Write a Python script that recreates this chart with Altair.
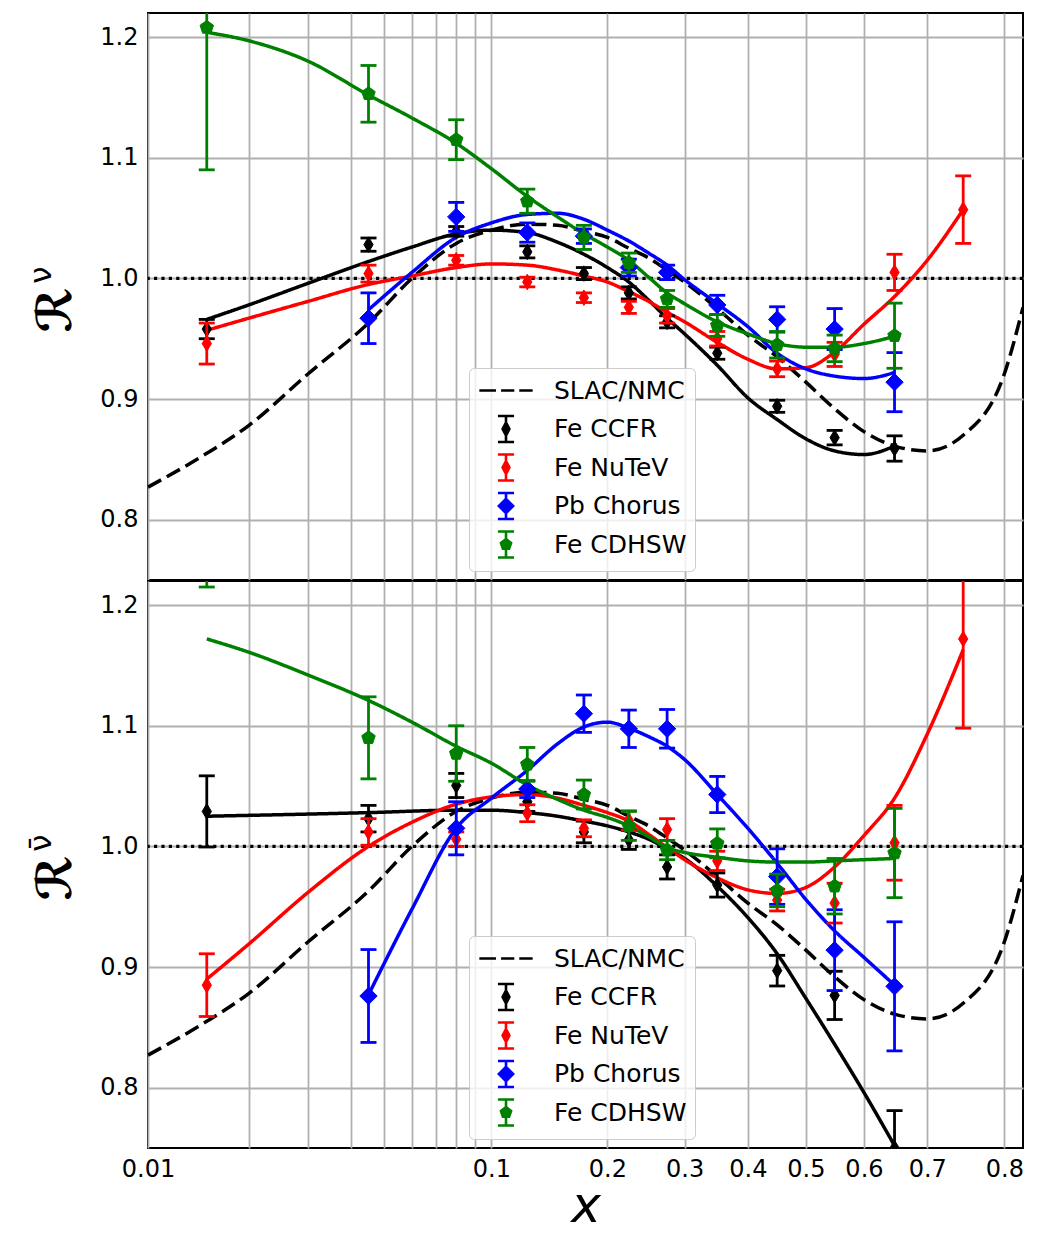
import math
import altair as alt
import pandas as pd

# ---------------------------------------------------------------- series
SERIES = ["SLAC/NMC", "Fe CCFR", "Fe NuTeV", "Pb Chorus", "Fe CDHSW"]
SERIES_COLORS = ["#000000", "#000000", "#ff0000", "#0000ff", "#008000"]

X_TICKS = [0.01, 0.02, 0.03, 0.04, 0.05, 0.06, 0.07, 0.08, 0.09,
           0.1, 0.2, 0.3, 0.4, 0.5, 0.6, 0.7, 0.8]
Y_TICKS = [0.8, 0.9, 1.0, 1.1, 1.2]
X_RANGE = [0.01, 0.82]
Y_RANGE = [0.75, 1.22]

# ---------------------------------------------------------------- points (upper panel, neutrino)
X11 = [0.015, 0.045, 0.08, 0.125, 0.175, 0.225, 0.275, 0.35, 0.45, 0.55, 0.65]
X12 = [0.015, 0.045, 0.08, 0.125, 0.175, 0.225, 0.275, 0.35, 0.45, 0.55, 0.65, 0.75]
X10 = [0.045, 0.08, 0.125, 0.175, 0.225, 0.275, 0.35, 0.45, 0.55, 0.65]

NU_CCFR_Y = [0.958, 1.028, 1.039, 1.022, 1.004, 0.988, 0.964, 0.938, 0.894, 0.868, 0.859]
NU_CCFR_E = [0.008, 0.0055, 0.004, 0.005, 0.005, 0.005, 0.005, 0.005, 0.005, 0.006, 0.0105]
NU_NUTEV_Y = [0.946, 1.004, 1.015, 0.997, 0.984, 0.976, 0.969, 0.950, 0.925, 0.937, 1.005, 1.057]
NU_NUTEV_E = [0.017, 0.007, 0.004, 0.004, 0.004, 0.005, 0.006, 0.006, 0.0065, 0.010, 0.015, 0.028]
NU_CHORUS_Y = [0.967, 1.051, 1.038, 1.035, 1.009, 1.005, 0.978, 0.966, 0.958, 0.914]
NU_CHORUS_E = [0.021, 0.012, 0.008, 0.006, 0.007, 0.006, 0.008, 0.0105, 0.017, 0.0245]
NU_CDHSW_Y = [1.208, 1.153, 1.115, 1.064, 1.034, 1.013, 0.983, 0.961, 0.945, 0.942, 0.9525]
NU_CDHSW_E = [0.118, 0.0235, 0.0165, 0.010, 0.010, 0.008, 0.007, 0.009, 0.011, 0.011, 0.027]

# ---------------------------------------------------------------- points (lower panel, antineutrino)
NB_CCFR_Y = [1.029, 1.023, 1.0505, 1.037, 1.012, 1.0055, 0.983, 0.968, 0.897, 0.8765, 0.750]
NB_CCFR_E = [0.0295, 0.011, 0.010, 0.008, 0.009, 0.008, 0.010, 0.010, 0.0127, 0.020, 0.031]
NB_NUTEV_Y = [0.885, 1.012, 1.006, 1.0275, 1.015, 1.0215, 1.014, 0.988, 0.9555, 0.953, 1.003, 1.172]
NB_NUTEV_E = [0.026, 0.011, 0.006, 0.007, 0.007, 0.008, 0.009, 0.008, 0.009, 0.0165, 0.031, 0.074]
NB_CHORUS_Y = [0.876, 1.015, 1.0475, 1.110, 1.0975, 1.0975, 1.043, 0.975, 0.914, 0.884]
NB_CHORUS_E = [0.0385, 0.022, 0.007, 0.0155, 0.0155, 0.016, 0.015, 0.023, 0.0335, 0.0535]
NB_CDHSW_Y = [1.30, 1.090, 1.077, 1.068, 1.043, 1.017, 0.997, 1.0025, 0.9635, 0.967, 0.9945]
NB_CDHSW_E = [0.085, 0.034, 0.023, 0.014, 0.012, 0.012, 0.008, 0.012, 0.0135, 0.023, 0.037]

# ---------------------------------------------------------------- curves
SLAC_X = [0.01, 0.015, 0.02, 0.03, 0.045, 0.06, 0.08, 0.1, 0.125, 0.15, 0.175, 0.2,
          0.225, 0.25, 0.275, 0.3, 0.35, 0.4, 0.45, 0.5, 0.55, 0.6, 0.65, 0.7, 0.75,
          0.8, 0.82]
SLAC_Y = [0.827, 0.855, 0.878, 0.921, 0.963, 1.000, 1.029, 1.040, 1.045, 1.044, 1.039,
          1.034, 1.025, 1.017, 1.007, 0.997, 0.975, 0.953, 0.935, 0.914, 0.892, 0.873,
          0.861, 0.857, 0.870, 0.921, 0.976]

CX_LOW = [0.015, 0.02, 0.03, 0.045, 0.06, 0.08, 0.1, 0.125, 0.15, 0.175, 0.2, 0.225,
          0.25, 0.275, 0.3, 0.35, 0.4, 0.45, 0.5, 0.55, 0.6, 0.65]
CX_LOW75 = CX_LOW + [0.7, 0.75]
CX_CHORUS = [0.045, 0.06, 0.08, 0.1, 0.125, 0.15, 0.175, 0.2, 0.225, 0.25, 0.275, 0.3,
             0.35, 0.4, 0.45, 0.5, 0.55, 0.6, 0.65]
CX_FLAT = [0.015, 0.045, 0.08, 0.1, 0.125, 0.15, 0.175, 0.2, 0.225, 0.25, 0.275, 0.3,
           0.35, 0.4, 0.45, 0.5, 0.55, 0.6, 0.65]

NU_CCFR_CURVE = [0.966, 0.978, 0.996, 1.014, 1.026, 1.037, 1.040, 1.038, 1.030, 1.020,
                 1.009, 0.997, 0.982, 0.967, 0.954, 0.928, 0.901, 0.883, 0.867, 0.857,
                 0.854, 0.861]
NU_NUTEV_CURVE = [0.957, 0.967, 0.981, 0.995, 1.002, 1.009, 1.012, 1.011, 1.007, 1.002,
                  0.997, 0.989, 0.981, 0.972, 0.964, 0.947, 0.933, 0.925, 0.926, 0.939,
                  0.962, 0.985, 1.015, 1.057]
NU_CHORUS_CURVE = [0.974, 1.005, 1.034, 1.046, 1.053, 1.054, 1.049, 1.040, 1.031, 1.021,
                   1.011, 0.999, 0.979, 0.960, 0.938, 0.925, 0.919, 0.917, 0.922]
NU_CDHSW_CURVE = [1.204, 1.197, 1.180, 1.152, 1.133, 1.112, 1.091, 1.068, 1.051, 1.037,
                  1.026, 1.015, 1.001, 0.988, 0.979, 0.964, 0.954, 0.946, 0.943, 0.943,
                  0.946, 0.952]

NB_CCFR_CURVE = [1.025, 1.028, 1.030, 1.030, 1.028, 1.025, 1.021, 1.017, 1.012, 1.006,
                 0.998, 0.990, 0.967, 0.941, 0.911, 0.874, 0.836, 0.796, 0.752]
NB_NUTEV_CURVE = [0.890, 0.919, 0.962, 1.000, 1.020, 1.035, 1.041, 1.043, 1.040, 1.034,
                  1.028, 1.021, 1.010, 0.999, 0.989, 0.974, 0.964, 0.961, 0.966, 0.983,
                  1.009, 1.040, 1.093, 1.163]
NB_CHORUS_CURVE = [0.877, 0.948, 1.015, 1.040, 1.063, 1.085, 1.099, 1.103, 1.098, 1.091,
                   1.083, 1.072, 1.043, 1.015, 0.986, 0.956, 0.930, 0.908, 0.885]
NB_CDHSW_CURVE = [1.172, 1.161, 1.142, 1.121, 1.103, 1.083, 1.069, 1.051, 1.039, 1.030,
                  1.024, 1.017, 1.008, 0.999, 0.995, 0.991, 0.988, 0.987, 0.987, 0.988,
                  0.989, 0.990]

# ---------------------------------------------------------------- styles
THIN_DIAMOND = "M0,-1L0.6,0L0,1L-0.6,0Z"
DIAMOND = "M0,-1L1,0L0,1L-1,0Z"
PENTAGON = "M0,-1L0.951,-0.309L0.588,0.809L-0.588,0.809L-0.951,-0.309Z"
MARKERS = {"Fe CCFR": (THIN_DIAMOND, 240), "Fe NuTeV": (THIN_DIAMOND, 240),
           "Pb Chorus": (DIAMOND, 300), "Fe CDHSW": (PENTAGON, 200)}

CAPS = "M-0.62,-1H0.62M0,-1V1M-0.62,1H0.62"
LEGEND_GLYPHS = [
    "M-2.05,0H-0.77M-0.38,0H0.64M1.02,0H2.05",
    CAPS + "M0,-0.5L0.26,0L0,0.5L-0.26,0Z",
    CAPS + "M0,-0.5L0.26,0L0,0.5L-0.26,0Z",
    CAPS + "M0,-0.55L0.55,0L0,0.55L-0.55,0Z",
    CAPS + "M0,-0.41L0.39,-0.125L0.24,0.33L-0.24,0.33L-0.39,-0.125Z",
]
FONT = "DejaVu Sans"
PLOT_W, PLOT_H = 875, 567


def logit(v):
    return math.log(v / (1 - v))


X_DOMAIN_T = [logit(X_RANGE[0]), logit(X_RANGE[1])]
TICK_T = [logit(v) for v in X_TICKS]
LOGIT = "log(datum.x / (1 - datum.x))"


def curve_frame(spec):
    rows = []
    for name, xs, ys in spec:
        rows += [{"series": name, "x": a, "y": b} for a, b in zip(xs, ys)]
    return pd.DataFrame(rows)


def point_frame(spec):
    rows = []
    for name, xs, ys, es in spec:
        rows += [{"series": name, "x": a, "y": b, "err": e} for a, b, e in zip(xs, ys, es)]
    return pd.DataFrame(rows)


def panel(curves, points, superscript, bottom):
    xscale = alt.Scale(domain=X_DOMAIN_T, nice=False, zero=False)
    yscale = alt.Scale(domain=Y_RANGE, nice=False, zero=False)
    if bottom:
        xaxis = alt.Axis(values=TICK_T, grid=True, ticks=False, domain=False,
                         labelExpr="(datum.value > -4.5 && datum.value < -2.25) ? '' : "
                                   "format(1/(1+exp(-datum.value)), '.2~f')",
                         labelFlush=False, labelOverlap=False, labelPadding=9,
                         title="x", titleFont=FONT, titleFontSize=50,
                         titleFontStyle="italic", titleFontWeight="normal",
                         titlePadding=0, titleColor="black")
    else:
        xaxis = alt.Axis(values=TICK_T, grid=True, ticks=False, domain=False,
                         labels=False, title=None)
    yaxis = alt.Axis(values=Y_TICKS, format=".1f", grid=True, ticks=False, domain=False,
                     labelPadding=10, title=None)
    X = alt.X("t:Q", scale=xscale, axis=xaxis)

    def Y(field):
        return alt.Y(field, scale=yscale, axis=yaxis)

    layers = []
    unity = alt.Chart(pd.DataFrame({"y": [1.0]})).mark_rule(
        color="black", strokeWidth=3.2, strokeDash=[3.2, 4.2]).encode(y=Y("y:Q"))
    layers.append(unity)

    # model curves, one layer per series
    for name, color in zip(SERIES, SERIES_COLORS):
        dash = [15, 6.5] if name == "SLAC/NMC" else [1, 0]
        layers.append(
            alt.Chart(curves).transform_filter(alt.datum.series == name)
            .transform_calculate(t=LOGIT)
            .mark_line(color=color, strokeWidth=3.5, strokeDash=dash, clip=True,
                       interpolate="monotone")
            .encode(x=X, y=Y("y:Q"))
        )

    # data points with error bars
    for name, color in zip(SERIES[1:], SERIES_COLORS[1:]):
        shape, size = MARKERS[name]
        d = alt.Chart(points).transform_filter(alt.datum.series == name).transform_calculate(
            t=LOGIT, lo="datum.y - datum.err", hi="datum.y + datum.err")
        layers.append(d.mark_rule(color=color, strokeWidth=2.8, clip=True).encode(
            x=X, y=Y("lo:Q"), y2="hi:Q"))
        for f in ("lo:Q", "hi:Q"):
            layers.append(d.mark_tick(color=color, orient="horizontal", size=16,
                                      thickness=2.8, clip=True, opacity=1).encode(
                x=X, y=Y(f)))
        layers.append(d.mark_point(filled=True, color=color, stroke=color, strokeWidth=1,
                                   shape=shape, size=size, opacity=1, clip=True).encode(
            x=X, y=Y("y:Q")))

    # legend (symbols drawn from the legend's own scales)
    leg = alt.Legend(title=None, orient="none", legendX=321, legendY=355, padding=8,
                     rowPadding=1.5, gridAlign="all", symbolOffset=14.5, labelOffset=33.5,
                     symbolSize=676, symbolStrokeWidth=2.6, symbolOpacity=1,
                     labelFont=FONT, labelFontSize=25, labelColor="black", labelLimit=400,
                     fillColor="rgba(255,255,255,0.8)", strokeColor="#cccccc",
                     cornerRadius=5)
    legend_layer = alt.Chart(pd.DataFrame({"label": SERIES})).mark_point(
        filled=True, opacity=0, size=676, strokeWidth=2.6).encode(
        fill=alt.Fill("label:N", scale=alt.Scale(domain=SERIES, range=SERIES_COLORS), legend=leg),
        stroke=alt.Stroke("label:N", scale=alt.Scale(domain=SERIES, range=SERIES_COLORS), legend=leg),
        shape=alt.Shape("label:N", scale=alt.Scale(domain=SERIES, range=LEGEND_GLYPHS), legend=leg),
    )
    layers.append(legend_layer)

    # y-axis title: script R with superscript
    main = alt.Chart(pd.DataFrame({"s": ["\u211b"]})).mark_text(
        angle=270, align="center", baseline="middle", fontSize=48, font=FONT,
        fontWeight="bold", color="black").encode(text="s:N", x=alt.value(-91), y=alt.value(297))
    sup = alt.Chart(pd.DataFrame({"s": [superscript]})).mark_text(
        angle=270, align="center", baseline="middle", fontSize=31, font=FONT,
        color="black").encode(text="s:N", x=alt.value(-106), y=alt.value(262))
    layers += [main, sup]

    return alt.layer(*layers).properties(width=PLOT_W, height=PLOT_H)


top_curves = curve_frame([
    ("SLAC/NMC", SLAC_X, SLAC_Y),
    ("Fe CCFR", CX_LOW, NU_CCFR_CURVE),
    ("Fe NuTeV", CX_LOW75, NU_NUTEV_CURVE),
    ("Pb Chorus", CX_CHORUS, NU_CHORUS_CURVE),
    ("Fe CDHSW", CX_LOW, NU_CDHSW_CURVE),
])
top_points = point_frame([
    ("Fe CCFR", X11, NU_CCFR_Y, NU_CCFR_E),
    ("Fe NuTeV", X12, NU_NUTEV_Y, NU_NUTEV_E),
    ("Pb Chorus", X10, NU_CHORUS_Y, NU_CHORUS_E),
    ("Fe CDHSW", X11, NU_CDHSW_Y, NU_CDHSW_E),
])
bot_curves = curve_frame([
    ("SLAC/NMC", SLAC_X, SLAC_Y),
    ("Fe CCFR", CX_FLAT, NB_CCFR_CURVE),
    ("Fe NuTeV", CX_LOW75, NB_NUTEV_CURVE),
    ("Pb Chorus", CX_CHORUS, NB_CHORUS_CURVE),
    ("Fe CDHSW", CX_LOW, NB_CDHSW_CURVE),
])
bot_points = point_frame([
    ("Fe CCFR", X11, NB_CCFR_Y, NB_CCFR_E),
    ("Fe NuTeV", X12, NB_NUTEV_Y, NB_NUTEV_E),
    ("Pb Chorus", X10, NB_CHORUS_Y, NB_CHORUS_E),
    ("Fe CDHSW", X11, NB_CDHSW_Y, NB_CDHSW_E),
])

top = panel(top_curves, top_points, "\u03bd", bottom=False)
bottom = panel(bot_curves, bot_points, "\u03bd\u0304", bottom=True)

chart = alt.vconcat(top, bottom, spacing=-2).resolve_scale(
    fill="independent", stroke="independent", shape="independent",
).resolve_legend(
    fill="independent", stroke="independent", shape="independent",
).properties(
    padding={"left": 17, "top": 4, "right": 5, "bottom": 0},
).configure_view(
    stroke="black", strokeWidth=2,
).configure_axis(
    gridColor="#b0b0b0", gridWidth=1.8, gridOpacity=1,
    labelFont=FONT, labelFontSize=24, labelColor="black",
)

chart.save("out.html", embed_options={"renderer": "svg", "actions": False})
